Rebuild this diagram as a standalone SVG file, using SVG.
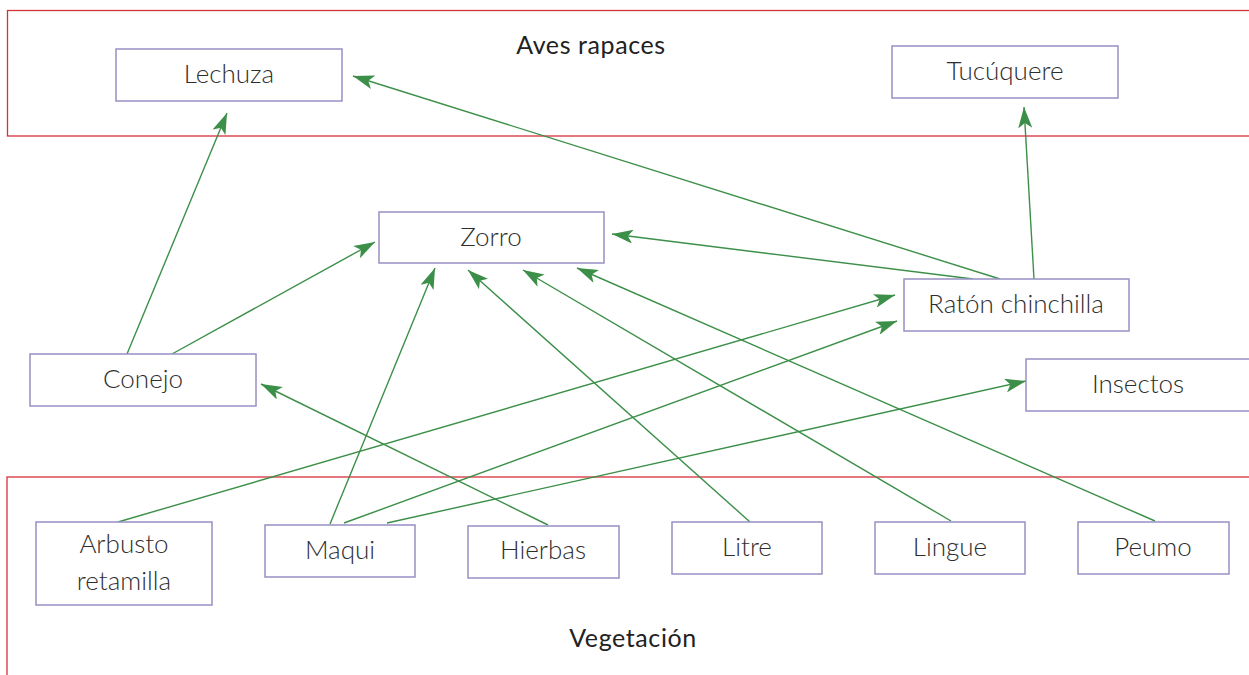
<svg xmlns="http://www.w3.org/2000/svg" width="1249" height="675" viewBox="0 0 1249 675">
<style>
.region{fill:none;stroke:#d8303a;stroke-width:1.3}
.box{fill:#fff;stroke:#9890c6;stroke-width:1.5}
.lbl{font-family:Lato,"Open Sans","Liberation Sans",sans-serif;font-weight:300;font-size:26px;fill:#2e2e2e;text-anchor:middle}
.title{font-family:Lato,"Open Sans","Liberation Sans",sans-serif;font-weight:400;font-size:25px;letter-spacing:0.6px;fill:#222;text-anchor:middle}
.edge{fill:none;stroke:#3c8f48;stroke-width:1.4;marker-end:url(#arr)}
</style>
<defs>
<marker id="arr" markerUnits="userSpaceOnUse" markerWidth="22" markerHeight="14" refX="21" refY="7" orient="auto">
<path d="M0,0 L21,7 L0,14 L5,7 z" fill="#3c8f48"/>
</marker>
</defs>
<rect fill="#fff" x="0" y="0" width="1249" height="675"/>
<g id="regions">
<rect class="region" x="7.5" y="10.5" width="1260" height="125.5"/>
<text class="title" x="591" y="54">Aves rapaces</text>
<rect class="region" x="7" y="477" width="1260" height="220"/>
<text class="title" x="633" y="647">Vegetación</text>
</g>
<g id="connectors">
<line class="edge" x1="127" y1="354" x2="227" y2="113"/>
<line class="edge" x1="172" y1="354" x2="375" y2="242"/>
<line class="edge" x1="1000" y1="279" x2="353" y2="76"/>
<line class="edge" x1="973" y1="279" x2="612" y2="234"/>
<line class="edge" x1="1034" y1="279" x2="1024" y2="107"/>
<line class="edge" x1="330" y1="524" x2="435" y2="268"/>
<line class="edge" x1="750" y1="522" x2="468" y2="270"/>
<line class="edge" x1="951" y1="521" x2="523" y2="270"/>
<line class="edge" x1="1155" y1="521" x2="577" y2="268"/>
<line class="edge" x1="548" y1="525" x2="261" y2="384"/>
<line class="edge" x1="118" y1="522" x2="895" y2="295"/>
<line class="edge" x1="344" y1="523" x2="897" y2="321"/>
<line class="edge" x1="387" y1="523" x2="1026" y2="381"/>
</g>
<g id="lechuza"><rect class="box" x="116" y="49" width="226" height="52"/><text class="lbl" x="229" y="83">Lechuza</text></g>
<g id="tucuquere"><rect class="box" x="892" y="46" width="226" height="52"/><text class="lbl" x="1005" y="80">Tucúquere</text></g>
<g id="zorro"><rect class="box" x="379" y="212" width="225" height="51"/><text class="lbl" x="491" y="246">Zorro</text></g>
<g id="raton"><rect class="box" x="904" y="279" width="225" height="52"/><text class="lbl" x="1016" y="313">Ratón chinchilla</text></g>
<g id="insectos"><rect class="box" x="1026" y="359" width="226" height="52"/><text class="lbl" x="1138" y="393">Insectos</text></g>
<g id="conejo"><rect class="box" x="30" y="354" width="226" height="52"/><text class="lbl" x="143" y="388">Conejo</text></g>
<g id="arbusto"><rect class="box" x="36" y="522" width="176" height="83"/><text class="lbl" x="124" y="553">Arbusto</text><text class="lbl" x="124" y="590">retamilla</text></g>
<g id="maqui"><rect class="box" x="265" y="525" width="150" height="52"/><text class="lbl" x="340" y="559">Maqui</text></g>
<g id="hierbas"><rect class="box" x="468" y="526" width="151" height="52"/><text class="lbl" x="543" y="559">Hierbas</text></g>
<g id="litre"><rect class="box" x="672" y="522" width="150" height="52"/><text class="lbl" x="747" y="556">Litre</text></g>
<g id="lingue"><rect class="box" x="875" y="522" width="150" height="52"/><text class="lbl" x="950" y="556">Lingue</text></g>
<g id="peumo"><rect class="box" x="1078" y="522" width="151" height="52"/><text class="lbl" x="1153" y="556">Peumo</text></g>
</svg>
